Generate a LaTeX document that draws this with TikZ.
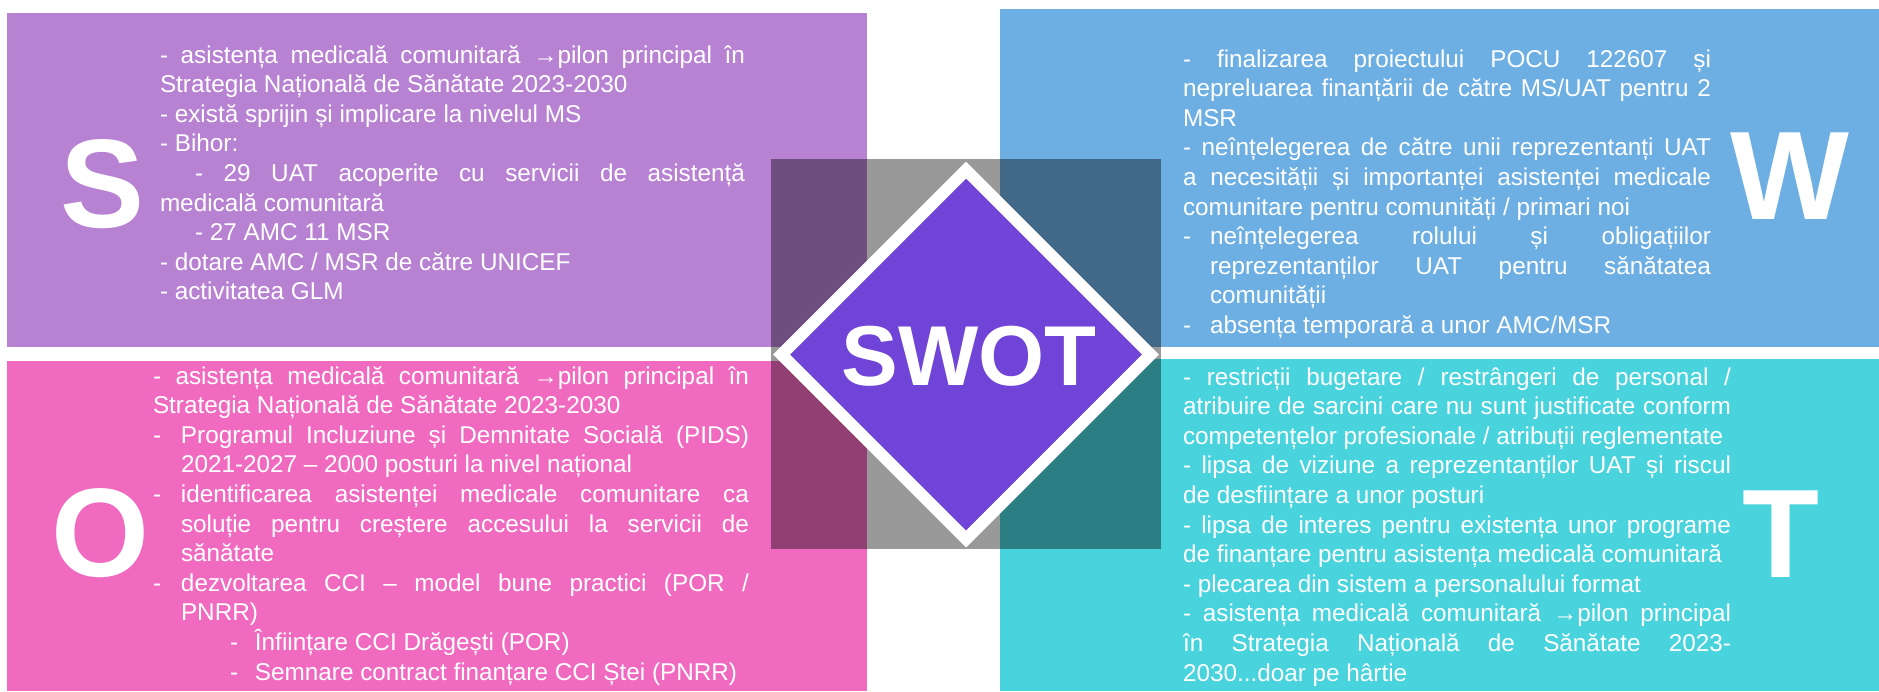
\documentclass[tikz,border=0pt]{standalone}
\usepackage{fontspec}
\setmainfont{Liberation Sans}

\definecolor{sbox}{RGB}{184,130,211}
\definecolor{wbox}{RGB}{109,175,226}
\definecolor{obox}{RGB}{240,107,192}
\definecolor{tbox}{RGB}{73,211,220}
\definecolor{swotfill}{RGB}{113,68,216}

% justified paragraph block with fixed width, no hyphenation
\newcommand\quadtext[2]{\parbox[t]{#1}{\fontsize{24.3}{29.6}\selectfont
  \tolerance=10000 \hyphenpenalty=10000 \exhyphenpenalty=10000
  \parindent=0pt \parskip=0pt #2}}
\newcommand\hangdash[1]{\hangindent=#1\hangafter=1 \makebox[#1][l]{-}}

\tikzset{
  bodytext/.style={anchor=base west, inner sep=0pt, outer sep=0pt, text=white},
  bigletter/.style={anchor=base, inner sep=0pt, outer sep=0pt, text=white,
    font=\bfseries\fontsize{126}{126}\selectfont},
  centretitle/.style={anchor=base, inner sep=0pt, outer sep=0pt, text=white,
    font=\bfseries\fontsize{85}{85}\selectfont},
}

\begin{document}
\begin{tikzpicture}[x=1pt,y=-1pt]
\useasboundingbox (0,0) rectangle (1879,691);
\fill[white] (0,0) rectangle (1879,691);

% quadrant panels
\fill[sbox] (7,13) rectangle (867,347);
\fill[wbox] (1000,9) rectangle (1879,347);
\fill[obox] (7,361) rectangle (867,691);
\fill[tbox] (1000,359) rectangle (1879,691);

% shaded square behind the centre badge
\fill[black, opacity=0.4] (771,159) rectangle (1161,549);

% centre badge
\draw[line width=12pt, draw=white, fill=swotfill, line join=miter]
  (966,170) -- (1150.5,354.5) -- (966,539) -- (781.5,354.5) -- cycle;
\node[centretitle] (swot) at (969,385) {SWOT};

% quadrant initials
\node[bigletter] (letterS) at (103,227) {S};
\node[bigletter] (letterW) at (1790,219) {W};
\node[bigletter] (letterO) at (101,576) {O};
\node[bigletter] (letterT) at (1781,577) {T};

% strengths
\node[bodytext] (textS) at (160,63) {\quadtext{585pt}{%
- asistența medicală comunitară →pilon principal în\linebreak
Strategia Națională de Sănătate 2023-2030\par
- există sprijin și implicare la nivelul MS\par
- Bihor:\par
\hspace*{35pt}- 29 UAT acoperite cu servicii de asistență\linebreak
medicală comunitară\par
\hspace*{35pt}- 27 AMC 11 MSR\par
- dotare AMC / MSR de către UNICEF\par
- activitatea GLM}};

% weaknesses
\node[bodytext] (textW) at (1183,67) {\quadtext{528pt}{%
- finalizarea proiectului POCU 122607 și\linebreak
nepreluarea finanțării de către MS/UAT pentru 2\linebreak
MSR\par
- neînțelegerea de către unii reprezentanți UAT\linebreak
a necesității și importanței asistenței medicale\linebreak
comunitare pentru comunități / primari noi\par
\hangdash{27pt}neînțelegerea rolului și obligațiilor\linebreak
reprezentanților UAT pentru sănătatea\linebreak
comunității\par
\hangdash{27pt}absența temporară a unor AMC/MSR}};

% opportunities
\node[bodytext] (textO) at (153,384) {\quadtext{596pt}{%
- asistența medicală comunitară →pilon principal în\linebreak
Strategia Națională de Sănătate 2023-2030\par
\hangdash{28pt}Programul Incluziune și Demnitate Socială (PIDS)\linebreak
2021-2027 – 2000 posturi la nivel național\par
\hangdash{28pt}identificarea asistenței medicale comunitare ca\linebreak
soluție pentru creștere accesului la servicii de\linebreak
sănătate\par
\hangdash{28pt}dezvoltarea CCI – model bune practici (POR /\linebreak
PNRR)\par
\hspace*{77pt}\makebox[25pt][l]{-}Înființare CCI Drăgești (POR)\par
\hspace*{77pt}\makebox[25pt][l]{-}Semnare contract finanțare CCI Ștei (PNRR)}};

% threats
\node[bodytext] (textT) at (1183,385) {\quadtext{548pt}{%
- restricții bugetare / restrângeri de personal /\linebreak
atribuire de sarcini care nu sunt justificate conform\linebreak
competențelor profesionale / atribuții reglementate\par
- lipsa de viziune a reprezentanților UAT și riscul\linebreak
de desființare a unor posturi\par
- lipsa de interes pentru existența unor programe\linebreak
de finanțare pentru asistența medicală comunitară\par
- plecarea din sistem a personalului format\par
- asistența medicală comunitară →pilon principal\linebreak
în Strategia Națională de Sănătate 2023-\linebreak
2030...doar pe hârtie}};
\end{tikzpicture}
\end{document}
